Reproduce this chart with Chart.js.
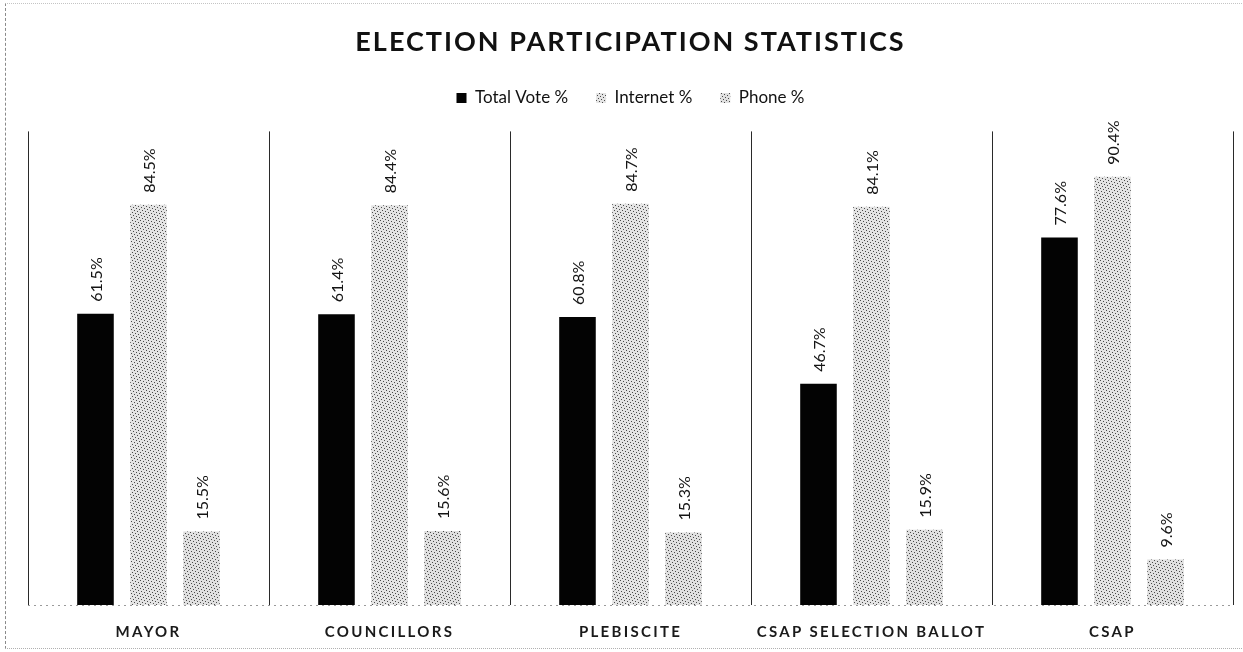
<!DOCTYPE html>
<html>
<head>
<meta charset="utf-8">
<script src="https://cdn.jsdelivr.net/npm/chart.js@4/dist/chart.umd.min.js"></script>
<style>
  html, body { margin: 0; padding: 0; background: #fff; }
  #wrap { position: relative; width: 1243px; height: 652px; }
  #frame {
    position: absolute; left: 5px; top: 3px; width: 1240px; height: 644px;
    border-left: 1px dashed #8a8a8a; border-top: 1px dotted #c4c4c4; border-bottom: 1px dotted #b0b0b0;
    pointer-events: none;
  }
</style>
</head>
<body>
<div id="wrap">
  <canvas id="chart" width="1243" height="652"></canvas>
  <div id="frame"></div>
</div>
<script>
// Election participation by contest
const categories = ['MAYOR', 'COUNCILLORS', 'PLEBISCITE', 'CSAP SELECTION BALLOT', 'CSAP'];
const totalVote = [61.5, 61.4, 60.8, 46.7, 77.6];
const internet  = [84.5, 84.4, 84.7, 84.1, 90.4];
const phone     = [15.5, 15.6, 15.3, 15.9, 9.6];
const seriesNames = ['Total Vote %', 'Internet %', 'Phone %'];

const FONT = 'Lato, "Open Sans", sans-serif';

// Stippled grey fill, built from a small fixed tile
function stipple(base, dot, tile) {
  const c = document.createElement('canvas');
  const n = tile.length;
  c.width = n; c.height = n;
  const g = c.getContext('2d');
  g.fillStyle = base;
  g.fillRect(0, 0, n, n);
  g.fillStyle = dot;
  for (let y = 0; y < n; y++) {
    for (let x = 0; x < n; x++) {
      if (tile[y][x] === '#') g.fillRect(x, y, 1, 1);
    }
  }
  return g.createPattern(c, 'repeat');
}
const tileA = [
  '#.......',
  '...#....',
  '......#.',
  '.#......',
  '....#...',
  '.......#',
  '..#.....',
  '.....#..'
];
const tileB = [
  '..#.....',
  '.....#..',
  '#.......',
  '...#....',
  '......#.',
  '.#......',
  '....#...',
  '.......#'
];
const internetFill = stipple('#e4e4e4', '#4a4a4a', tileA);
const phoneFill = stipple('#e0e0e0', '#4a4a4a', tileB);

// Rotated value labels above each bar
const valueLabels = {
  id: 'valueLabels',
  afterDatasetsDraw(chart) {
    const ctx = chart.ctx;
    ctx.save();
    ctx.font = '16px ' + FONT;
    ctx.fillStyle = '#141414';
    ctx.textAlign = 'left';
    ctx.textBaseline = 'middle';
    chart.data.datasets.forEach((ds, di) => {
      const meta = chart.getDatasetMeta(di);
      meta.data.forEach((bar, i) => {
        ctx.save();
        ctx.translate(bar.x + 1, bar.y - 12);
        ctx.rotate(-Math.PI / 2);
        ctx.fillText(ds.data[i].toFixed(1) + '%', 0, 0);
        ctx.restore();
      });
    });
    ctx.restore();
  }
};

// Dotted baseline along the bottom of the plot
const baseline = {
  id: 'baseline',
  beforeDatasetsDraw(chart) {
    const { ctx, chartArea: a } = chart;
    ctx.save();
    ctx.strokeStyle = '#9a9a9a';
    ctx.lineWidth = 1;
    ctx.setLineDash([2, 4]);
    ctx.beginPath();
    ctx.moveTo(a.left, a.bottom + 0.5);
    ctx.lineTo(a.right, a.bottom + 0.5);
    ctx.stroke();
    ctx.restore();
  }
};

// Letter-spaced title and category labels; extra room under the legend
const spacing = {
  id: 'spacing',
  afterInit(chart) {
    const lg = chart.legend;
    const fit = lg.fit;
    lg.fit = function () { fit.call(this); this.height += 15; };
  },
  beforeDraw(chart) {
    const sx = chart.scales.x;
    if (!sx._spaced) {
      const orig = sx.drawLabels;
      sx.drawLabels = function (area) {
        const c = this.ctx;
        c.save(); c.letterSpacing = '2.3px';
        orig.call(this, area);
        c.restore();
      };
      sx._spaced = true;
    }
    const tb = chart.titleBlock;
    if (tb && !tb._spaced) {
      const origT = tb.draw;
      tb.draw = function () {
        const c = this.ctx;
        c.save(); c.letterSpacing = '2px';
        origT.apply(this, arguments);
        c.restore();
      };
      tb._spaced = true;
    }
  }
};

new Chart(document.getElementById('chart'), {
  type: 'bar',
  data: {
    labels: categories,
    datasets: [
      { label: seriesNames[0], data: totalVote, backgroundColor: '#030303' },
      { label: seriesNames[1], data: internet, backgroundColor: internetFill },
      { label: seriesNames[2], data: phone, backgroundColor: phoneFill }
    ]
  },
  options: {
    responsive: false,
    animation: false,
    datasets: { bar: { categoryPercentage: 0.66, barPercentage: 0.69 } },
    layout: { padding: { left: 28, right: 10, top: 0, bottom: 0 } },
    plugins: {
      title: {
        display: true,
        text: 'ELECTION PARTICIPATION STATISTICS',
        color: '#111',
        font: { family: FONT, size: 27, weight: 'bold' },
        padding: { top: 26, bottom: 3 }
      },
      legend: {
        position: 'top',
        labels: {
          color: '#111',
          font: { family: FONT, size: 17 },
          boxWidth: 10,
          boxHeight: 10,
          padding: 28
        }
      },
      tooltip: { enabled: false }
    },
    scales: {
      x: {
        offset: true,
        grid: { display: true, offset: true, color: '#2a2a2a', lineWidth: 1, drawTicks: false },
        border: { display: false },
        afterFit(scale) { scale.height = 47; },
        ticks: {
          color: '#1a1a1a',
          font: { family: FONT, size: 15, weight: 'bold' },
          padding: 18,
          maxRotation: 0
        }
      },
      y: {
        display: false,
        min: 0,
        max: 100
      }
    }
  },
  plugins: [valueLabels, baseline, spacing]
});
</script>
</body>
</html>
